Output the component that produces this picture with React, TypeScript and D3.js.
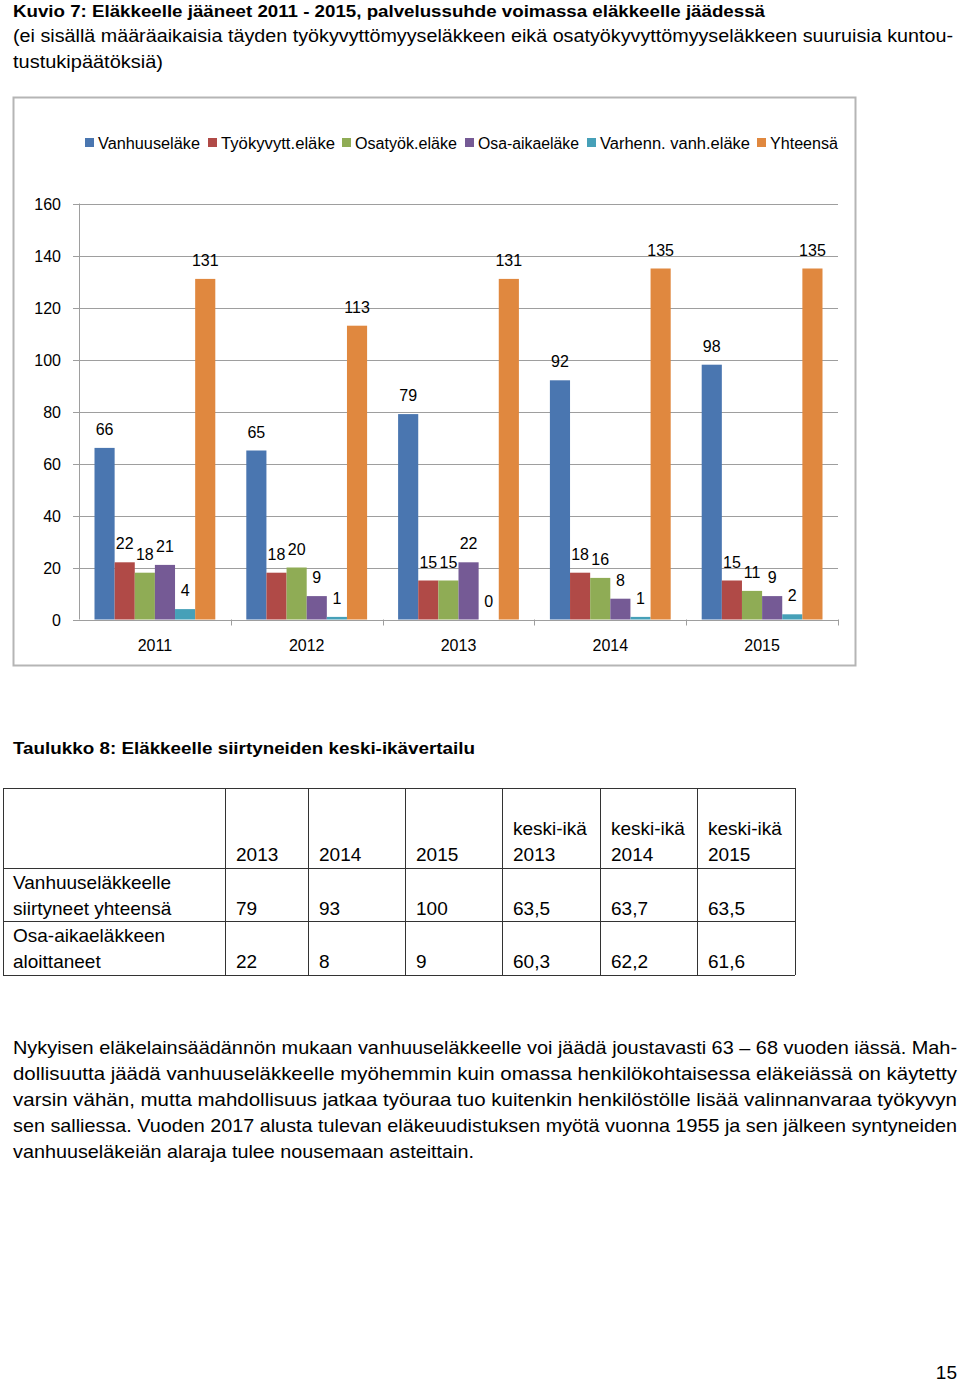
import React from "react";
import * as d3 from "d3";

const years = ["2011", "2012", "2013", "2014", "2015"];
const seriesNames = ["Vanhuuseläke", "Työkyvytt.eläke", "Osatyök.eläke", "Osa-aikaeläke", "Varhenn. vanh.eläke", "Yhteensä"];
const seriesColors = ["#4A76B0", "#B04A47", "#8FAC55", "#755A95", "#46A0B8", "#E0883F"];
const vanhuus = [66, 65, 79, 92, 98];
const tyokyvytt = [22, 18, 15, 18, 15];
const osatyok = [18, 20, 15, 16, 11];
const osaAika = [21, 9, 22, 8, 9];
const varhenn = [4, 1, 0, 1, 2];
const yhteensa = [131, 113, 131, 135, 135];
const seriesValues = [vanhuus, tyokyvytt, osatyok, osaAika, varhenn, yhteensa];
const yTicks = [0, 20, 40, 60, 80, 100, 120, 140, 160];

const titleLines = [
  "Kuvio 7: Eläkkeelle jääneet 2011 - 2015, palvelussuhde voimassa eläkkeelle jäädessä",
  "(ei sisällä määräaikaisia täyden työkyvyttömyyseläkkeen eikä osatyökyvyttömyyseläkkeen suuruisia kuntou-",
  "tustukipäätöksiä)",
];
const tableTitle = "Taulukko 8: Eläkkeelle siirtyneiden keski-ikävertailu";
const tableHeader = [["", ""], ["", "2013"], ["", "2014"], ["", "2015"], ["keski-ikä", "2013"], ["keski-ikä", "2014"], ["keski-ikä", "2015"]];
const tableRows = [
  [["Vanhuuseläkkeelle", "siirtyneet yhteensä"], ["", "79"], ["", "93"], ["", "100"], ["", "63,5"], ["", "63,7"], ["", "63,5"]],
  [["Osa-aikaeläkkeen", "aloittaneet"], ["", "22"], ["", "8"], ["", "9"], ["", "60,3"], ["", "62,2"], ["", "61,6"]],
];
const paragraph = [
  "Nykyisen eläkelainsäädännön mukaan vanhuuseläkkeelle voi jäädä joustavasti 63 – 68 vuoden iässä. Mah-",
  "dollisuutta jäädä vanhuuseläkkeelle myöhemmin kuin omassa henkilökohtaisessa eläkeiässä on käytetty",
  "varsin vähän, mutta mahdollisuus jatkaa työuraa tuo kuitenkin henkilöstölle lisää valinnanvaraa työkyvyn",
  "sen salliessa. Vuoden 2017 alusta tulevan eläkeuudistuksen myötä vuonna 1955 ja sen jälkeen syntyneiden",
  "vanhuuseläkeiän alaraja tulee nousemaan asteittain.",
];
const pageNumber = "15";

const FONT = "'Liberation Sans', Arial, Helvetica, sans-serif";

export default function App() {
  const plotLeft = 79, plotRight = 838, plotTop = 203.5, plotBottom = 619.5;
  const y = d3.scaleLinear().domain([0, 160]).range([plotBottom, plotTop]);
  const x0 = d3.scaleBand<string>().domain(years).range([plotLeft, plotRight]);
  const gw = x0.bandwidth();
  const x1 = d3.scaleBand<string>().domain(seriesNames).range([15.5, gw - 15.5]);

  const legendX = [85, 208, 342, 465, 587, 757];
  const legendW = [102, 114, 102, 101, 150, 68];

  const colX = [3, 225, 308, 405, 502, 600, 697, 795];
  const rowY = [788, 868, 921, 975];

  const titleWidths = [752, 940, 150];
  const titleBase = [17, 42, 68];
  const paraBase = [1054, 1080, 1106, 1132, 1158];
  const paraWidths = [944, 944, 944, 944, 461];

  return (
    <svg width={960} height={1382} style={{ position: "absolute", left: 0, top: 0, background: "#fff" }} fontFamily={FONT}>
      <rect x={0} y={0} width={960} height={1382} fill="#fff" />
      {titleLines.map((t, i) => (
        <text key={i} x={13} y={titleBase[i]} fontSize={i === 0 ? 17 : 17.5} fontWeight={i === 0 ? "bold" : "normal"}
          textLength={titleWidths[i]} lengthAdjust="spacingAndGlyphs" fill="#000">{t}</text>
      ))}

      {/* chart frame */}
      <rect x={13.5} y={97.5} width={842} height={568} fill="#fff" stroke="#B5B5B5" strokeWidth={2} />

      {/* legend */}
      {seriesNames.map((s, i) => (
        <g key={s}>
          <rect x={legendX[i]} y={138} width={9} height={9} fill={seriesColors[i]} />
          <text x={legendX[i] + 13} y={148.5} fontSize={16} textLength={legendW[i]} lengthAdjust="spacingAndGlyphs" fill="#000">{s}</text>
        </g>
      ))}

      {/* gridlines + y axis */}
      {yTicks.map((t) => (
        <g key={t}>
          <line x1={plotLeft - 6} x2={plotRight} y1={Math.round(y(t)) + 0.5} y2={Math.round(y(t)) + 0.5} stroke="#9E9E9E" strokeWidth={1} />
          <text x={61} y={y(t) + 6} fontSize={16} textAnchor="end" fill="#000">{t}</text>
        </g>
      ))}
      <line x1={plotLeft + 0.5} x2={plotLeft + 0.5} y1={plotTop} y2={plotBottom} stroke="#9E9E9E" />
      {/* x axis ticks */}
      {years.map((yr) => (
        <line key={yr} x1={Math.round(x0(yr)! + gw) + 0.5} x2={Math.round(x0(yr)! + gw) + 0.5} y1={plotBottom} y2={plotBottom + 6} stroke="#9E9E9E" />
      ))}

      {/* bars */}
      {years.map((yr, gi) => (
        <g key={yr}>
          {seriesNames.map((s, si) => {
            const v = seriesValues[si][gi];
            const bx = x0(yr)! + x1(s)!;
            const bw = x1.bandwidth();
            return (
              <g key={s}>
                <rect x={bx} y={y(v)} width={bw} height={plotBottom - y(v)} fill={seriesColors[si]} />
                <text x={bx + bw / 2} y={y(v) - 13} fontSize={16} textAnchor="middle" fill="#000">{v}</text>
              </g>
            );
          })}
          <text x={x0(yr)! + gw / 2} y={651} fontSize={16} textAnchor="middle" fill="#000">{yr}</text>
        </g>
      ))}

      {/* table */}
      <text x={13} y={754} fontSize={17} fontWeight="bold" textLength={462} lengthAdjust="spacingAndGlyphs" fill="#000">{tableTitle}</text>
      <g stroke="#333" strokeWidth={1}>
        {rowY.map((ry) => (
          <line key={ry} x1={colX[0]} x2={colX[colX.length - 1]} y1={ry + 0.5} y2={ry + 0.5} />
        ))}
        {colX.map((cx) => (
          <line key={cx} x1={cx + 0.5} x2={cx + 0.5} y1={rowY[0]} y2={rowY[rowY.length - 1]} />
        ))}
      </g>
      {tableHeader.map((cell, ci) => (
        <g key={ci}>
          <text x={colX[ci] + (ci === 0 ? 10 : 11)} y={835} fontSize={19} fill="#000">{cell[0]}</text>
          <text x={colX[ci] + (ci === 0 ? 10 : 11)} y={861} fontSize={19} fill="#000">{cell[1]}</text>
        </g>
      ))}
      {tableRows.map((row, ri) => (
        <g key={ri}>
          {row.map((cell, ci) => (
            <g key={ci}>
              <text x={colX[ci] + (ci === 0 ? 10 : 11)} y={rowY[ri + 1] + 21} fontSize={19} fill="#000">{cell[0]}</text>
              <text x={colX[ci] + (ci === 0 ? 10 : 11)} y={rowY[ri + 1] + 47} fontSize={19} fill="#000">{cell[1]}</text>
            </g>
          ))}
        </g>
      ))}

      {/* paragraph */}
      {paragraph.map((line, i) => (
        <text key={i} x={13} y={paraBase[i]} fontSize={18.5} textLength={paraWidths[i]} lengthAdjust="spacingAndGlyphs" fill="#000">{line}</text>
      ))}

      <text x={957} y={1379} fontSize={19} textAnchor="end" fill="#000">{pageNumber}</text>
    </svg>
  );
}
